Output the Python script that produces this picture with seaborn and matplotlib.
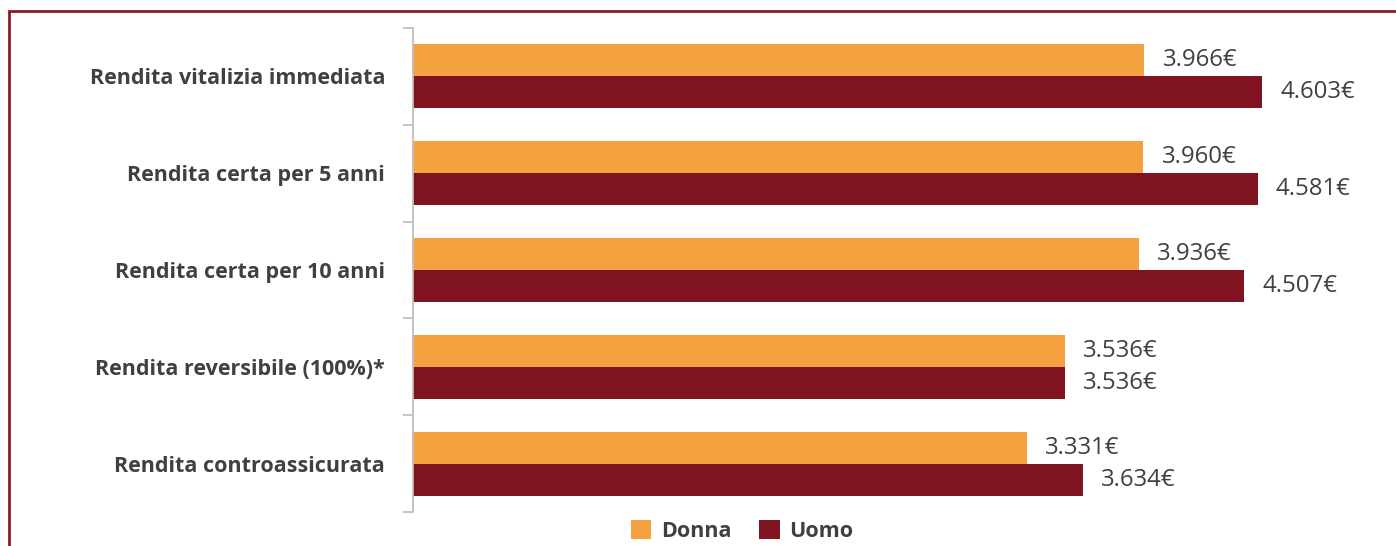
import matplotlib
matplotlib.use("Agg")
import matplotlib.pyplot as plt
import seaborn as sns
import pandas as pd
from matplotlib.patches import Rectangle, Patch
from matplotlib.ticker import FixedLocator

categories = ["Rendita vitalizia immediata", "Rendita certa per 5 anni",
              "Rendita certa per 10 anni", "Rendita reversibile (100%)*",
              "Rendita controassicurata"]
donna = [3966, 3960, 3936, 3536, 3331]
uomo = [4603, 4581, 4507, 3536, 3634]
series = ["Donna", "Uomo"]
colors = {"Donna": "#F3A23F", "Uomo": "#7F1420"}

rows = []
for c, d, u in zip(categories, donna, uomo):
    rows.append({"cat": c, "sesso": "Donna", "val": d})
    rows.append({"cat": c, "sesso": "Uomo", "val": u})
df = pd.DataFrame(rows)

sns.set_theme(style="white")
plt.rcParams["font.family"] = ["Open Sans", "DejaVu Sans"]

fig = plt.figure(figsize=(13.96, 5.46), dpi=100)
W, H = 1396, 546
ax = fig.add_axes([413 / W, 1 - 512 / H, (1390 - 413) / W, (512 - 28) / H])

sns.barplot(data=df, y="cat", x="val", hue="sesso", orient="h",
            palette=colors, width=0.66, gap=0, ax=ax, legend=False,
            saturation=1, order=categories, hue_order=series, linewidth=0)

ax.set_xlim(0, (1390 - 413) / 0.18444)
ax.set_ylim(4.5, -0.5)
ax.set_xlabel("")
ax.set_ylabel("")
ax.set_xticks([])
for s in ["top", "right", "bottom"]:
    ax.spines[s].set_visible(False)
ax.spines["left"].set_color("#BFBFBF")
ax.spines["left"].set_linewidth(1.3)
ax.yaxis.set_minor_locator(FixedLocator([-0.5, 0.5, 1.5, 2.5, 3.5, 4.5]))
ax.tick_params(axis="y", which="minor", length=7, width=1.3, color="#BFBFBF", left=True)
ax.tick_params(axis="y", which="major", length=0, pad=20)
for lbl in ax.get_yticklabels():
    lbl.set_fontweight("bold")
    lbl.set_fontsize(15.5)
    lbl.set_color("#404040")

for cont in ax.containers:
    labels = [f"{int(v.get_width()):,}".replace(",", ".") + "€" for v in cont]
    ax.bar_label(cont, labels=labels, padding=13, fontsize=17.3, color="#404040")

handles = [Patch(facecolor=colors[s], edgecolor="none") for s in series]
leg = fig.legend(handles, series, loc="center", bbox_to_anchor=(742 / W, 1 - 531 / H),
                 ncol=2, frameon=False, handlelength=0.95, handleheight=0.95,
                 columnspacing=1.3, handletextpad=0.45,
                 prop={"weight": "bold", "size": 15.5})
for t in leg.get_texts():
    t.set_color("#404040")

fig.patches.append(Rectangle((9 / W, -0.1), 1.2, 1 - 11 / H + 0.1, transform=fig.transFigure,
                             fill=False, edgecolor="#8B1A2A", linewidth=2))

fig.savefig("out.png", dpi=100)
